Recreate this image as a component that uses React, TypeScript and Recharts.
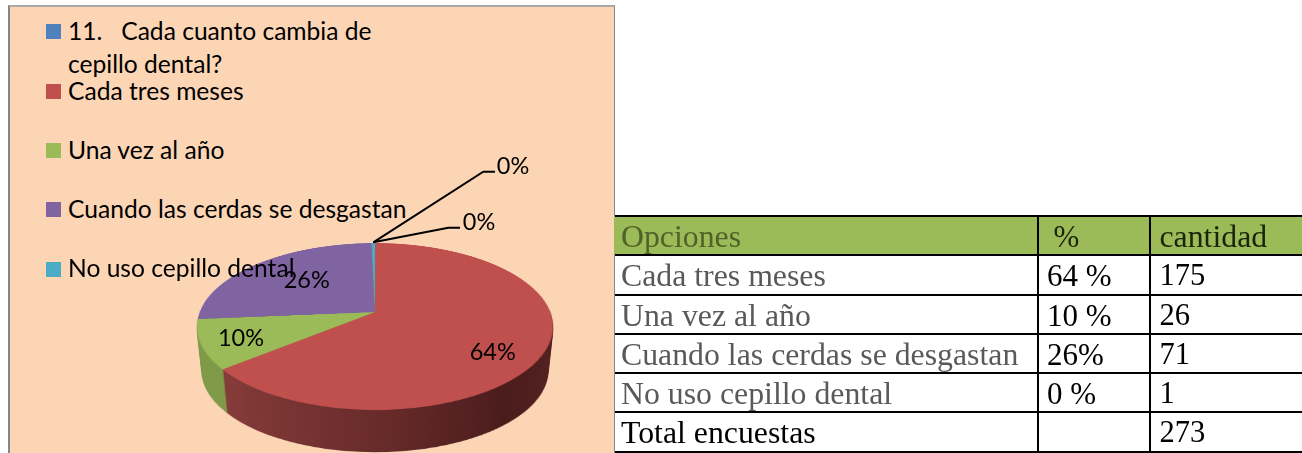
import React from "react";
import { PieChart, Pie, Cell } from "recharts";

const categories = [
  "11.   Cada cuanto cambia de cepillo dental?",
  "Cada tres meses",
  "Una vez al año",
  "Cuando las cerdas se desgastan",
  "No uso cepillo dental",
];
const values = [0, 175, 26, 71, 1];
const colors = ["#4F81BD", "#C0504D", "#9BBB59", "#8064A2", "#4BACC6"];
const sideColors = ["#3F6797", "url(#sideRed)", "#7F9A48", "#664F82", "#3C899E"];

const tableHeader = ["Opciones", "%", "cantidad"];
const tableOptions = ["Cada tres meses", "Una vez al año", "Cuando las cerdas se desgastan", "No uso cepillo dental", "Total encuestas"];
const tablePercents = ["64 %", "10 %", "26%", "0 %", ""];
const tableCounts = ["175", "26", "71", "1", "273"];

const data = categories.map((name, i) => ({ name, value: values[i] }));

const SIZE = 420;
const R = 175.3;
const DEPTH = 45;
const layers = Array.from({ length: DEPTH }, (_, i) => DEPTH - i);

const labelSpots: Record<number, { x: number; y: number; line?: [number, number][] }> = {
  0: { x: 513, y: 165, line: [[373.3, 242.3], [483.3, 171.7], [495, 171.7]] },
  1: { x: 492.7, y: 351 },
  2: { x: 241, y: 337 },
  3: { x: 306.7, y: 279 },
  4: { x: 479, y: 221, line: [[373.3, 242.3], [448.3, 227.7], [460, 227.7]] },
};

const FONT = "Lato, sans-serif";

function Disk({ fills, drop }: { fills: string[]; drop: number }) {
  const s = 1 - (0.028 * drop) / DEPTH;
  return (
    <div
      style={{
        position: "absolute",
        left: 165,
        top: 101.7,
        width: SIZE,
        height: SIZE,
        transform: `translateY(${drop}px) scale(${s}) perspective(895px) rotateX(62.5deg)`,
      }}
    >
      <PieChart width={SIZE} height={SIZE} margin={{ top: 0, right: 0, bottom: 0, left: 0 }}>
        <defs>
          <linearGradient id="sideRed" gradientUnits="userSpaceOnUse" x1="30" y1="0" x2="390" y2="0">
            <stop offset="0" stopColor="#8E403D" />
            <stop offset="0.5" stopColor="#692B2A" />
            <stop offset="0.82" stopColor="#4A1B1B" />
            <stop offset="1" stopColor="#552120" />
          </linearGradient>
        </defs>
        <Pie
          data={data}
          dataKey="value"
          nameKey="name"
          cx={SIZE / 2}
          cy={SIZE / 2}
          innerRadius={0}
          outerRadius={R}
          startAngle={90}
          endAngle={-270}
          stroke="none"
          paddingAngle={0}
          isAnimationActive={false}
        >
          {fills.map((f, i) => (
            <Cell key={i} fill={f} stroke="none" />
          ))}
        </Pie>
      </PieChart>
    </div>
  );
}

const renderLabel = (props: any) => {
  const spot = labelSpots[props.index];
  if (!spot) return null;
  return (
    <g key={props.index}>
      {spot.line && (
        <polyline
          points={spot.line.map((p) => p.join(",")).join(" ")}
          fill="none"
          stroke="#000"
          strokeWidth={2}
        />
      )}
      <text x={spot.x} y={spot.y} textAnchor="middle" dominantBaseline="central" fontFamily={FONT} fontSize={23.5} fill="#000">
        {`${Math.round(props.percent * 100)}%`}
      </text>
    </g>
  );
};

const legendSquares = [24, 84, 143, 202, 262];
const legendTexts: { text: string; y: number }[] = [
  { text: "11.   Cada cuanto cambia de", y: 31 },
  { text: "cepillo dental?", y: 64 },
  { text: categories[1], y: 91 },
  { text: categories[2], y: 150 },
  { text: categories[3], y: 209 },
  { text: categories[4], y: 268 },
];

const rowTops = [216, 255, 294.5, 333.5, 372.8, 412.3, 452];
const colLefts = [614, 1037.5, 1150, 1302];
const GRAY = "#595959";
const sizes = [31.8, 31, 30.5];

function Cell2({ r, c, text, color }: { r: number; c: number; text: string; color: string }) {
  const pad = c === 1 && r === 0 ? 16 : c === 0 ? 7 : 9.5;
  const size = r === 0 && c === 2 ? 31.8 : sizes[c];
  return (
    <div
      style={{
        position: "absolute",
        left: colLefts[c] + pad,
        top: rowTops[r] + 1,
        height: rowTops[r + 1] - rowTops[r],
        lineHeight: `${rowTops[r + 1] - rowTops[r]}px`,
        fontFamily: "'Liberation Serif', serif",
        fontSize: size,
        color,
        whiteSpace: "pre",
      }}
    >
      {text}
    </div>
  );
}

export default function App() {
  return (
    <div style={{ position: "absolute", left: 0, top: 0, width: 1302, height: 453, overflow: "hidden", background: "#fff" }}>
      <div
        style={{
          position: "absolute",
          left: 8,
          top: 5,
          width: 606.5,
          height: 448,
          background: "#FCD5B5",
          borderLeft: "2px solid #868686",
          borderTop: "2px solid #A9A9A9",
          borderRight: "1.5px solid #868686",
          boxSizing: "border-box",
        }}
      />
      {layers.map((d) => (
        <Disk key={d} drop={d} fills={sideColors} />
      ))}
      <Disk drop={0} fills={colors} />

      {legendSquares.map((y, i) => (
        <div key={i} style={{ position: "absolute", left: 46, top: y, width: 15, height: 15, background: colors[i] }} />
      ))}
      {legendTexts.map((t) => (
        <div
          key={t.y}
          style={{
            position: "absolute",
            left: 68,
            top: t.y - 15,
            height: 30,
            lineHeight: "30px",
            fontFamily: FONT,
            fontSize: 24.6,
            color: "#000",
            whiteSpace: "pre",
          }}
        >
          {t.text}
        </div>
      ))}

      <div style={{ position: "absolute", left: 0, top: 0 }}>
        <PieChart width={1302} height={453} margin={{ top: 0, right: 0, bottom: 0, left: 0 }}>
          <Pie
            data={data}
            dataKey="value"
            nameKey="name"
            cx={375}
            cy={312}
            outerRadius={10}
            startAngle={90}
            endAngle={-270}
            fill="none"
            stroke="none"
            label={renderLabel}
            labelLine={false}
            isAnimationActive={false}
          />
        </PieChart>
      </div>

      {/* table */}
      <div
        style={{
          position: "absolute",
          left: colLefts[0],
          top: rowTops[0],
          width: colLefts[3] - colLefts[0],
          height: rowTops[1] - rowTops[0],
          background: "#9BBB59",
        }}
      />
      {rowTops.map((y) => (
        <div key={y} style={{ position: "absolute", left: colLefts[0] + 0.5, top: y - 1, width: colLefts[3] - colLefts[0], height: y === 452 ? 1.5 : 2, background: "#000" }} />
      ))}
      {colLefts.slice(1, 3).map((x) => (
        <div key={x} style={{ position: "absolute", left: x - 1, top: rowTops[0], width: 2, height: rowTops[6] - rowTops[0], background: "#000" }} />
      ))}
      {tableHeader.map((h, c) => (
        <Cell2 key={h} r={0} c={c} text={h} color={c === 0 ? "#4F6228" : "#1a2408"} />
      ))}
      {tableOptions.map((t, i) => (
        <React.Fragment key={t}>
          <Cell2 r={i + 1} c={0} text={t} color={i === 4 ? "#000" : GRAY} />
          <Cell2 r={i + 1} c={1} text={tablePercents[i]} color="#000" />
          <Cell2 r={i + 1} c={2} text={tableCounts[i]} color="#000" />
        </React.Fragment>
      ))}
    </div>
  );
}
